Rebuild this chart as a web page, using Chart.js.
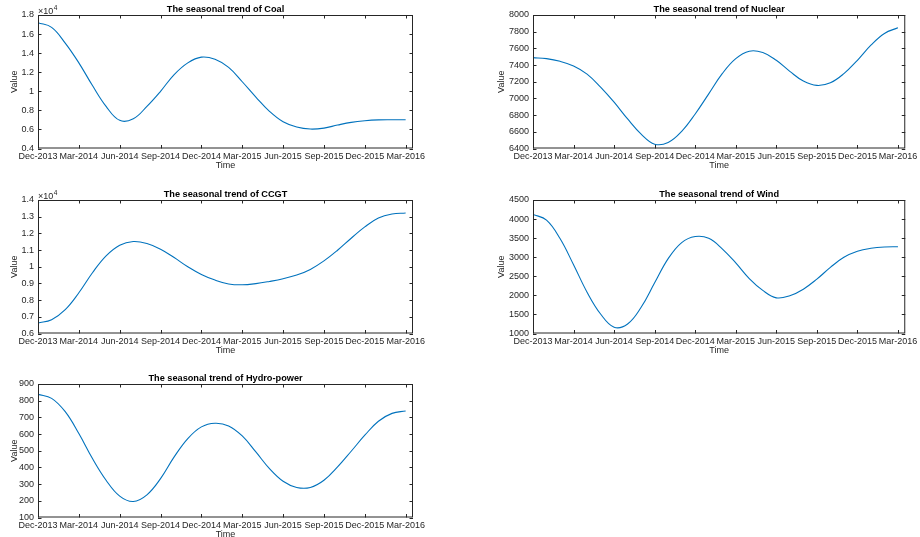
<!DOCTYPE html>
<html>
<head>
<meta charset="utf-8">
<script src="https://cdn.jsdelivr.net/npm/chart.js@4.4.1/dist/chart.umd.min.js"></script>
<style>
  html, body { margin: 0; padding: 0; background: #fff; width: 920px; height: 537px; overflow: hidden; }
  canvas { position: absolute; }
</style>
</head>
<body>
<canvas id="coal"></canvas>
<canvas id="nuclear"></canvas>
<canvas id="ccgt"></canvas>
<canvas id="wind"></canvas>
<canvas id="hydro"></canvas>
<script>
// months counted from Dec-2013
const months = [0, 1, 2, 3, 4, 5, 6, 7, 8, 9, 10, 11, 12, 13, 14, 15, 16, 17, 18, 19, 20, 21, 22, 23, 24, 25, 26, 27];
const tickLabels = ['Dec-2013', 'Mar-2014', 'Jun-2014', 'Sep-2014', 'Dec-2014', 'Mar-2015',
                    'Jun-2015', 'Sep-2015', 'Dec-2015', 'Mar-2016'];

const coal = [17190, 16700, 15050, 12980, 10600, 8420, 6950, 7120, 8420, 10000, 11750, 12980, 13580, 13350,
              12500, 11000, 9400, 7900, 6800, 6250, 6040, 6140, 6460, 6740, 6910, 7000, 7015, 7020];
const nuclear = [7489, 7477, 7445, 7389, 7292, 7136, 6955, 6754, 6573, 6452, 6472, 6605, 6814, 7055,
                 7297, 7477, 7566, 7550, 7457, 7325, 7208, 7156, 7188, 7297, 7457, 7638, 7779, 7847];
const ccgt = [6630, 6830, 7430, 8440, 9640, 10650, 11290, 11510, 11390, 11050, 10550, 10000, 9540, 9200,
              8970, 8920, 8990, 9120, 9280, 9500, 9840, 10350, 10990, 11710, 12390, 12920, 13160, 13220];
const wind = [4122, 3973, 3489, 2803, 2083, 1511, 1165, 1250, 1687, 2329, 2962, 3384, 3542, 3495,
              3220, 2850, 2440, 2130, 1935, 1990, 2162, 2425, 2733, 2997, 3155, 3234, 3269, 3275];
const hydro = [838, 814, 734, 603, 453, 323, 228, 196, 236, 333, 463, 573, 643, 665,
               649, 589, 493, 393, 317, 280, 280, 323, 403, 497, 593, 677, 724, 738];

const FONT = '"Liberation Sans", Arial, sans-serif';
const TXT = '#262626';
const LINE = '#0072BD';

// box around the axes with inward ticks, like MATLAB
const boxTicks = {
  id: 'boxTicks',
  afterDatasetsDraw(chart) {
    const { ctx, chartArea: a, scales: { x, y } } = chart;
    const len = 3.5;
    ctx.save();
    ctx.strokeStyle = TXT;
    ctx.lineWidth = 1;
    ctx.strokeRect(a.left + 0.5, a.top + 0.5, a.right - a.left - 1, a.bottom - a.top - 1);
    ctx.beginPath();
    x.ticks.forEach(t => {
      const px = Math.round(x.getPixelForValue(t.value)) + 0.5;
      ctx.moveTo(px, a.bottom); ctx.lineTo(px, a.bottom - len);
      ctx.moveTo(px, a.top); ctx.lineTo(px, a.top + len);
    });
    y.ticks.forEach(t => {
      const py = Math.round(y.getPixelForValue(t.value)) + 0.5;
      ctx.moveTo(a.left, py); ctx.lineTo(a.left + len, py);
      ctx.moveTo(a.right, py); ctx.lineTo(a.right - len, py);
    });
    ctx.stroke();
    ctx.restore();
  }
};

// "x10^4" label over the y axis
const expLabel = {
  id: 'expLabel',
  afterDraw(chart) {
    const { ctx, chartArea: a } = chart;
    ctx.save();
    ctx.fillStyle = TXT;
    ctx.textBaseline = 'alphabetic';
    ctx.font = '9px ' + FONT;
    ctx.fillText('\u00d710', a.left, a.top - 1.5);
    const w = ctx.measureText('\u00d710').width;
    ctx.font = '6.5px ' + FONT;
    ctx.fillText('4', a.left + w + 0.5, a.top - 5.5);
    ctx.restore();
  }
};

function panel(id, pos, title, values, yMin, yMax, yStep, fmt, yAxisW, padRight, valuePad, withExp) {
  const cv = document.getElementById(id);
  cv.width = pos.w; cv.height = pos.h;
  cv.style.left = pos.left + 'px';
  cv.style.top = pos.top + 'px';
  const plugins = [boxTicks];
  if (withExp) plugins.push(expLabel);
  new Chart(cv, {
    type: 'line',
    data: {
      datasets: [{
        data: months.map((m, i) => ({ x: m, y: values[i] })),
        borderColor: LINE,
        borderWidth: 1.1,
        pointRadius: 0,
        tension: 0.4,
        fill: false
      }]
    },
    options: {
      responsive: false,
      animation: false,
      events: [],
      layout: { padding: { left: 0, right: padRight, top: 0, bottom: 0 } },
      plugins: {
        legend: { display: false },
        tooltip: { enabled: false },
        title: {
          display: true,
          text: title,
          fullSize: false,
          color: '#000',
          font: { family: FONT, size: 9.2, weight: 'bold', lineHeight: 1 },
          padding: { top: 4.6, bottom: 1.2 }
        }
      },
      scales: {
        x: {
          type: 'linear',
          min: 0,
          max: 27.54,
          grid: { display: false, drawTicks: false, tickLength: 0 },
          border: { display: false },
          ticks: {
            stepSize: 3,
            includeBounds: false,
            autoSkip: false,
            maxRotation: 0,
            padding: 2.5,
            color: TXT,
            font: { family: FONT, size: 9 },
            callback: v => tickLabels[Math.round(v / 3)]
          },
          title: {
            display: true,
            text: 'Time',
            color: TXT,
            padding: 0,
            font: { family: FONT, size: 9, lineHeight: 1.2 }
          },
          afterFit: s => { s.height = 22.5; }
        },
        y: {
          min: yMin,
          max: yMax,
          grid: { display: false, drawTicks: false, tickLength: 0 },
          border: { display: false },
          ticks: {
            stepSize: yStep,
            padding: 4,
            color: TXT,
            font: { family: FONT, size: 9 },
            callback: fmt
          },
          title: {
            display: true,
            text: 'Value',
            color: TXT,
            padding: { top: valuePad, bottom: 0 },
            font: { family: FONT, size: 9, lineHeight: 1.2 }
          },
          afterFit: s => { s.width = yAxisW; }
        }
      }
    },
    plugins
  });
}

const plain = v => String(v);
const e4 = v => String(+(v / 10000).toFixed(1));

panel('coal', { left: 0, top: 0, w: 430, h: 171 }, 'The seasonal trend of Coal', coal,
      4000, 18000, 2000, e4, 38, 17, 9, true);
panel('nuclear', { left: 480, top: 0, w: 440, h: 171 }, 'The seasonal trend of Nuclear', nuclear,
      6400, 8000, 200, plain, 53, 12, 16.5, false);
panel('ccgt', { left: 0, top: 185, w: 430, h: 171 }, 'The seasonal trend of CCGT', ccgt,
      6000, 14000, 1000, e4, 38, 17, 9, true);
panel('wind', { left: 480, top: 185, w: 440, h: 171 }, 'The seasonal trend of Wind', wind,
      1000, 4500, 500, plain, 53, 12, 16.5, false);
panel('hydro', { left: 0, top: 369, w: 430, h: 171 }, 'The seasonal trend of Hydro-power', hydro,
      100, 900, 100, plain, 38, 17, 9, false);
</script>
</body>
</html>
